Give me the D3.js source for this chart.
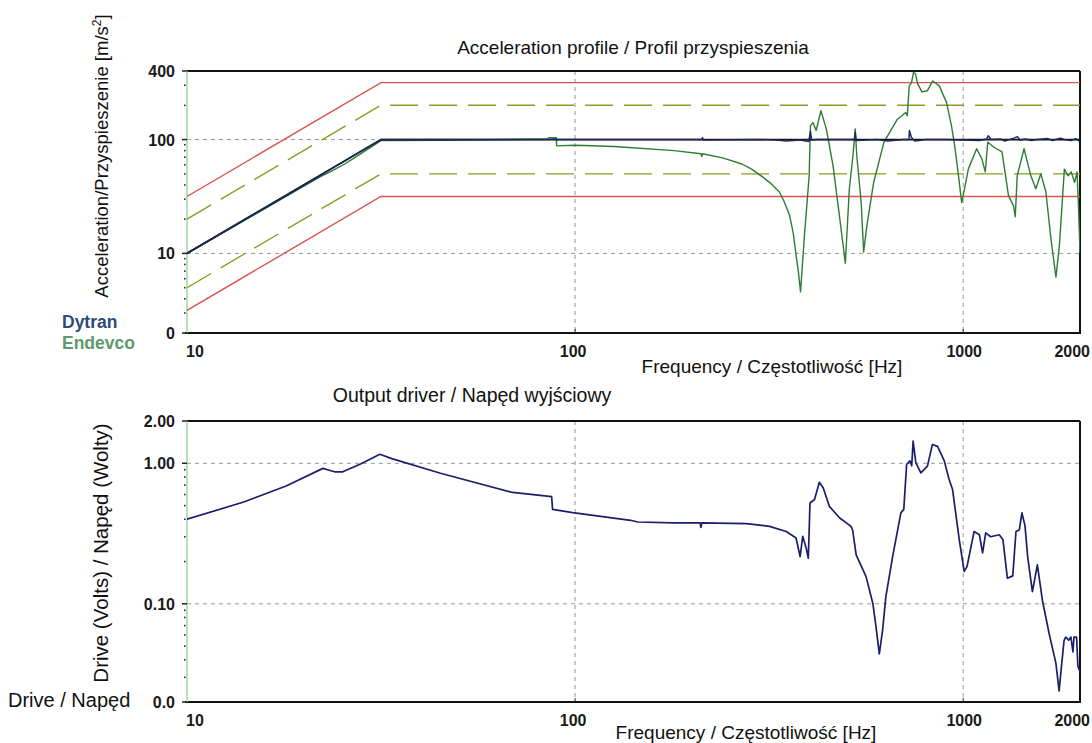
<!DOCTYPE html>
<html><head><meta charset="utf-8">
<script src="https://cdn.jsdelivr.net/npm/d3@7"></script>
<style>
body{margin:0;background:#fff}
svg{display:block}
text{font-family:"Liberation Sans",Arial,sans-serif}
</style>
</head><body>
<svg id="c" width="1092" height="743"></svg>
<script>
// ---------- DATA ----------
const xTickValues = [10, 100, 1000, 2000];
const xTickLabels = ["10", "100", "1000", "2000"];
const accTickValues = [400, 100, 10, 2];
const accTickLabels = ["400", "100", "10", "0"];
const driveTickValues = [2, 1, 0.1, 0.02];
const driveTickLabels = ["2.00", "1.00", "0.10", "0.0"];

const profileFreq = [10, 31.6, 2000];
const profileAcc = [10, 100, 100];
const abortHighAcc = [31.6, 316, 316];
const abortLowAcc = [3.16, 31.6, 31.6];
const alarmHighAcc = [20, 200, 200];
const alarmLowAcc = [5, 50, 50];

const dytranFreq = [10, 22, 24, 25, 27, 31.6, 85, 89, 90, 200, 212, 213, 214, 300, 330, 350, 380, 400, 404, 407, 420, 500, 525, 527, 530, 600, 640, 700, 725, 727, 735, 750, 770, 800, 900, 1000, 1100, 1150, 1160, 1180, 1250, 1280, 1350, 1380, 1400, 1450, 1500, 1550, 1650, 1700, 1780, 1820, 1900, 1950, 2000];
const dytranAcc  = [10, 48, 57.5, 62, 73, 100, 100, 101, 100, 100, 100, 104, 99, 100, 99, 97, 99, 96, 118, 99, 100, 100, 100, 116, 98, 100, 97, 100, 100, 120, 105, 97, 98, 100, 100, 99, 98, 101, 108, 100, 101, 97, 103, 106, 99, 101, 98, 100, 102, 98, 103, 100, 98, 102, 96];

const endevcoFreq = [10, 22, 23.5, 25.5, 27, 31.6, 45, 85, 85.5, 89.5, 89.6, 100, 126, 180, 211, 212, 213, 240, 269, 285, 304, 320, 336, 345, 357, 365, 371, 376, 381, 390, 401, 404, 410, 418, 430, 444, 462, 482, 497, 509, 520, 527, 532, 546, 554, 565, 588, 625, 677, 711, 718, 726, 736, 745, 754, 763, 783, 808, 835, 868, 906, 933, 951, 970, 991, 1000, 1031, 1083, 1117, 1140, 1157, 1197, 1259, 1309, 1349, 1362, 1378, 1435, 1494, 1539, 1585, 1633, 1683, 1734, 1770, 1823, 1862, 1899, 1937, 1965, 1983, 2000];
const endevcoAcc  = [10, 47, 52.5, 61, 69, 98, 98.5, 101, 104, 104, 88, 89, 87, 80, 75, 71, 75, 69, 61, 55, 47, 41, 34.6, 29, 21.6, 15, 9.7, 7, 4.6, 14.5, 48, 132, 141, 120, 179, 124, 59, 19, 8.2, 37, 72, 124, 72, 28, 10.3, 17.7, 42, 95, 151, 173, 162, 296, 316, 390, 376, 310, 262, 268, 327, 296, 211, 132, 88, 52, 28, 32, 55, 83, 68, 52, 95, 86, 78, 32, 26, 21, 48, 83, 48, 37, 50, 35, 13.5, 6.2, 11.8, 55, 48, 52, 42, 52, 25, 10];

const driveFreq = [10, 14, 18, 22.4, 23, 24, 25.2, 28, 31.4, 33.7, 45, 69, 87, 87.5, 98.6, 139, 145, 179, 210, 211, 212, 276, 317, 350, 371, 380, 386, 394, 399, 403, 414, 426, 436, 452, 480, 514, 519, 530, 562, 585, 596, 608, 620, 632, 658, 691, 703, 715, 729, 737, 743, 755, 778, 809, 833, 859, 894, 920, 939, 977, 1006, 1023, 1067, 1101, 1122, 1143, 1177, 1239, 1266, 1300, 1342, 1368, 1395, 1417, 1443, 1466, 1508, 1553, 1600, 1664, 1733, 1767, 1790, 1820, 1838, 1870, 1895, 1918, 1930, 1960, 1975, 2000];
const driveVolts = [0.40, 0.53, 0.69, 0.92, 0.90, 0.87, 0.87, 0.99, 1.16, 1.08, 0.85, 0.62, 0.58, 0.47, 0.445, 0.393, 0.382, 0.377, 0.377, 0.35, 0.377, 0.372, 0.356, 0.327, 0.294, 0.217, 0.302, 0.249, 0.211, 0.522, 0.552, 0.733, 0.668, 0.494, 0.41, 0.356, 0.335, 0.223, 0.156, 0.101, 0.069, 0.044, 0.065, 0.112, 0.217, 0.444, 0.47, 0.98, 1.04, 0.96, 1.44, 1.01, 0.855, 0.955, 1.36, 1.32, 1.04, 0.767, 0.65, 0.286, 0.17, 0.184, 0.327, 0.31, 0.23, 0.32, 0.3, 0.31, 0.286, 0.152, 0.158, 0.327, 0.335, 0.444, 0.36, 0.217, 0.122, 0.189, 0.106, 0.062, 0.038, 0.024, 0.035, 0.055, 0.058, 0.055, 0.058, 0.0455, 0.058, 0.058, 0.036, 0.033];

// ---------- LAYOUT ----------
const svg = d3.select("#c");
const L = 187, R = 1080;
const top1 = 71, bot1 = 333, top2 = 421, bot2 = 702;
const x = d3.scaleLog().domain([10, 2000]).range([L, R]);
const yA = d3.scaleLog().domain([2, 400]).range([bot1, top1]);
const yD = d3.scaleLog().domain([0.02, 2]).range([bot2, top2]);

const gridColor = "#9a9a9a";

function panel(y, yTicks, yLabels, minorVals, top, bot, gridVals) {
  const g = svg.append("g");
  g.selectAll(".hg").data(gridVals).join("line")
    .attr("x1", L).attr("x2", R).attr("y1", d => y(d)).attr("y2", d => y(d))
    .attr("stroke", gridColor).attr("stroke-width", 1).attr("stroke-dasharray", "4,4");
  g.selectAll(".vg").data([100, 1000]).join("line")
    .attr("x1", d => x(d)).attr("x2", d => x(d)).attr("y1", top).attr("y2", bot)
    .attr("stroke", gridColor).attr("stroke-width", 1).attr("stroke-dasharray", "4,4");
  g.selectAll(".md").data(minorVals).join("rect")
    .attr("x", L - 3).attr("y", d => y(d) - 0.75).attr("width", 1.6).attr("height", 1.6).attr("fill", "#333");
  g.append("line").attr("x1", L).attr("x2", R).attr("y1", top).attr("y2", top).attr("stroke", "#111").attr("stroke-width", 2);
  g.append("line").attr("x1", R).attr("x2", R).attr("y1", top).attr("y2", bot).attr("stroke", "#111").attr("stroke-width", 2);
  g.append("line").attr("x1", L - 2).attr("x2", R + 1).attr("y1", bot).attr("y2", bot).attr("stroke", "#111").attr("stroke-width", 2);
  g.append("line").attr("x1", L).attr("x2", L).attr("y1", top).attr("y2", bot).attr("stroke", "#9fd89f").attr("stroke-width", 1.5);
  g.selectAll(".yt").data(yTicks).join("line")
    .attr("x1", L - 5).attr("x2", L).attr("y1", d => y(d)).attr("y2", d => y(d))
    .attr("stroke", "#222").attr("stroke-width", 1.5);
  g.selectAll(".yl").data(yTicks).join("text")
    .attr("x", 175).attr("y", d => y(d) + 6)
    .attr("text-anchor", "end").attr("font-weight", "bold").attr("font-size", 16).attr("fill", "#1a1a1a")
    .text((d, i) => yLabels[i]);
  g.selectAll(".xt").data([100, 1000]).join("line")
    .attr("x1", d => x(d)).attr("x2", d => x(d)).attr("y1", bot - 4).attr("y2", bot)
    .attr("stroke", "#222");
  g.selectAll(".xl").data(xTickValues).join("text")
    .attr("x", (d, i) => i === 0 ? x(d) - 1 : (i === xTickValues.length - 1 ? x(d) + 10 : x(d) - 2 + (i === 2 ? 3 : 0)))
    .attr("y", bot + 24)
    .attr("text-anchor", (d, i) => i === 0 ? "start" : (i === xTickValues.length - 1 ? "end" : "middle"))
    .attr("font-weight", "bold").attr("font-size", 16).attr("fill", "#1a1a1a")
    .text((d, i) => xTickLabels[i]);
  return g;
}

const accMinor = [3,4,5,6,7,8,9,20,30,40,50,60,70,80,90,200,300];
const driveMinor = [0.03,0.04,0.05,0.06,0.07,0.08,0.09,0.2,0.3,0.4,0.5,0.6,0.7,0.8,0.9];

panel(yA, accTickValues, accTickLabels, accMinor, top1, bot1, [100, 10]);
panel(yD, driveTickValues, driveTickLabels, driveMinor, top2, bot2, [1, 0.1]);

// ---------- LINES: acceleration ----------
svg.append("clipPath").attr("id", "clip1").append("rect")
  .attr("x", L).attr("y", top1).attr("width", R - L).attr("height", bot1 - top1);
const gA = svg.append("g").attr("clip-path", "url(#clip1)");
const lineA = (vals) => d3.line().x((d, i) => x(profileFreq[i])).y((d) => yA(d))(vals);

gA.append("path").attr("d", lineA(abortHighAcc)).attr("fill", "none").attr("stroke", "#d9534f").attr("stroke-width", 1.4);
gA.append("path").attr("d", lineA(abortLowAcc)).attr("fill", "none").attr("stroke", "#d9534f").attr("stroke-width", 1.4);
gA.append("path").attr("d", lineA(alarmHighAcc)).attr("fill", "none").attr("stroke", "#8f9a22").attr("stroke-width", 1.4).attr("stroke-dasharray", "28,11");
gA.append("path").attr("d", lineA(alarmLowAcc)).attr("fill", "none").attr("stroke", "#8f9a22").attr("stroke-width", 1.4).attr("stroke-dasharray", "28,11");

const lineXY = (fx, fy, ys) => d3.line().x((d, i) => x(fx[i])).y(d => ys(d));
gA.append("path").attr("d", lineXY(endevcoFreq, endevcoAcc, yA)(endevcoAcc))
  .attr("fill", "none").attr("stroke", "#2e7d32").attr("stroke-width", 1.4).attr("stroke-linejoin", "round");
gA.append("path").attr("d", lineA(profileAcc)).attr("fill", "none").attr("stroke", "#111").attr("stroke-width", 1.8);
gA.append("path").attr("d", lineXY(dytranFreq, dytranAcc, yA)(dytranAcc))
  .attr("fill", "none").attr("stroke", "#1b2a5e").attr("stroke-width", 1.5).attr("stroke-linejoin", "round");

// ---------- LINES: drive ----------
svg.append("clipPath").attr("id", "clip2").append("rect")
  .attr("x", L).attr("y", top2).attr("width", R - L).attr("height", bot2 - top2);
const gD = svg.append("g").attr("clip-path", "url(#clip2)");
gD.append("path").attr("d", lineXY(driveFreq, driveVolts, yD)(driveVolts))
  .attr("fill", "none").attr("stroke", "#1b1f6b").attr("stroke-width", 1.7).attr("stroke-linejoin", "round");

// ---------- TEXT ----------
svg.append("text").attr("x", 633).attr("y", 54).attr("text-anchor", "middle").attr("font-size", 19).attr("fill", "#111")
  .text("Acceleration profile / Profil przyspieszenia");
svg.append("text").attr("x", 772).attr("y", 373).attr("text-anchor", "middle").attr("font-size", 19).attr("fill", "#111")
  .text("Frequency / Częstotliwość [Hz]");
svg.append("text").attr("x", 472).attr("y", 402).attr("text-anchor", "middle").attr("font-size", 19.5).attr("fill", "#111")
  .text("Output driver / Napęd wyjściowy");
svg.append("text").attr("x", 746).attr("y", 739).attr("text-anchor", "middle").attr("font-size", 19).attr("fill", "#111")
  .text("Frequency / Częstotliwość [Hz]");

const yt1 = svg.append("text").attr("transform", "translate(108,156) rotate(-90)").attr("text-anchor", "middle")
  .attr("font-size", 18.5).attr("fill", "#111");
yt1.append("tspan").text("Acceleration/Przyspieszenie [m/s");
yt1.append("tspan").attr("font-size", 12).attr("dy", -7).text("2");
yt1.append("tspan").attr("dy", 7).text("]");

svg.append("text").attr("transform", "translate(108,553) rotate(-90)").attr("text-anchor", "middle")
  .attr("font-size", 20.5).attr("fill", "#111").text("Drive (Volts) / Napęd (Wolty)");

svg.append("text").attr("x", 8).attr("y", 707).attr("font-size", 20).attr("fill", "#111").text("Drive / Napęd");

svg.append("text").attr("x", 62).attr("y", 328).attr("font-size", 17.5).attr("font-weight", "bold").attr("fill", "#2f4a7a").text("Dytran");
svg.append("text").attr("x", 62).attr("y", 349).attr("font-size", 17.5).attr("font-weight", "bold").attr("fill", "#5c9a6c").text("Endevco");
</script>
</body></html>
